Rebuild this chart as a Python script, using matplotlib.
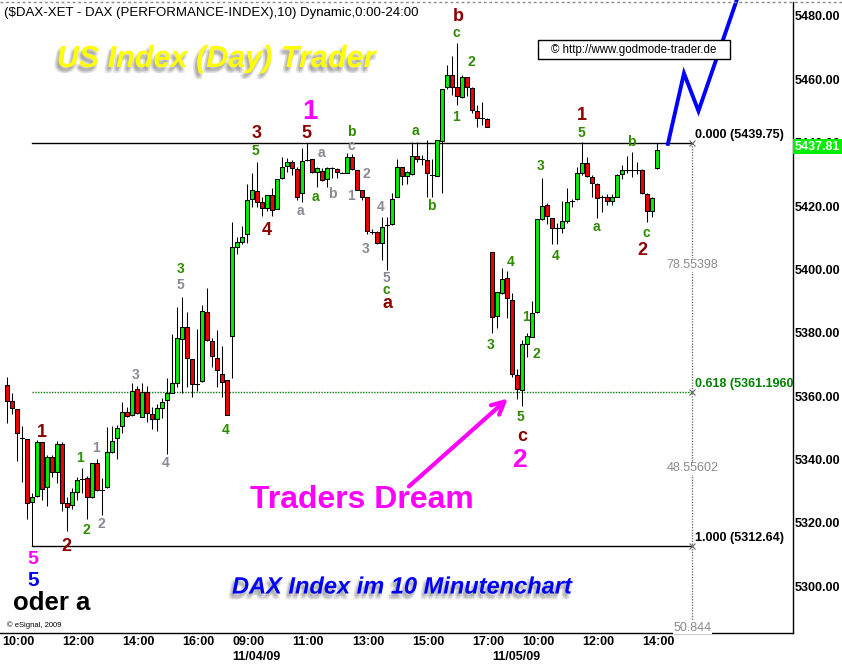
import matplotlib
matplotlib.use('Agg')
import matplotlib.pyplot as plt
import matplotlib.patheffects as pe
from matplotlib.patches import Rectangle
from matplotlib.lines import Line2D

plt.rcParams['font.family'] = ['Liberation Sans', 'DejaVu Sans']

# ---------------- data (10-minute candles, bar index 1..131) ----------------
opens = [5363.5, 5358.4, 5355.8, 5346.8, 5346.3, 5326.6, 5328.5, 5345.4, 5331.2, 5340.7,
         5335.9, 5344.9, 5326.1, 5325.6, 5329.6, 5333.8, 5334.0, 5328.0, 5338.8, 5330.3,
         5331.2, 5342.4, 5346.7, 5350.5, 5355.0, 5354.0, 5362.1, 5353.5, 5361.4, 5354.2,
         5352.9, 5356.3, 5358.7, 5361.0, 5364.2, 5377.9, 5381.9, 5371.6, 5363.7, 5364.8,
         5386.6, 5377.4, 5371.9, 5367.0, 5365.1,
         5379.1, 5407.2, 5408.5, 5411.2, 5422.1, 5424.7, 5421.2, 5419.3, 5423.5, 5419.0,
         5428.8, 5432.7, 5433.8, 5431.7, 5424.2, 5434.5, 5434.7, 5430.6, 5431.1, 5428.4,
         5431.9, 5431.7, 5430.5, 5430.5, 5435.6, 5431.4, 5425.1, 5422.9, 5411.9, 5411.9,
         5408.4, 5414.0, 5414.2, 5422.9, 5432.2, 5429.6, 5430.0, 5435.9, 5434.8, 5434.5,
         5429.8, 5429.5, 5440.6, 5457.5, 5461.4, 5457.5, 5454.5, 5460.6, 5457.2, 5450.0,
         5447.7, 5447.4,
         5405.4, 5385.4, 5392.6, 5397.2, 5390.3, 5366.6, 5361.9, 5376.3, 5378.7, 5386.4,
         5415.9, 5420.3, 5416.1, 5413.2, 5413.2, 5415.4, 5421.7, 5422.1, 5430.5, 5433.5,
         5429.0, 5426.9, 5422.8, 5422.8, 5421.7, 5422.9, 5430.1, 5431.4, 5431.4, 5431.4,
         5431.4, 5423.7, 5418.4, 5431.9]
highs = [5366.0, 5361.0, 5356.0, 5350.5, 5346.5, 5329.4, 5346.1, 5345.5, 5341.4, 5341.4,
         5345.9, 5345.6, 5328.0, 5330.9, 5334.5, 5337.2, 5334.8, 5339.0, 5340.0, 5334.0,
         5350.1, 5350.5, 5350.8, 5358.2, 5356.5, 5364.0, 5363.2, 5364.0, 5363.2, 5356.6,
         5357.4, 5359.3, 5365.6, 5379.6, 5388.2, 5391.2, 5386.4, 5371.7, 5381.2, 5388.7,
         5394.0, 5378.2, 5380.9, 5375.8, 5365.2,
         5415.1, 5410.3, 5413.7, 5427.0, 5430.5, 5434.0, 5423.0, 5423.5, 5425.6, 5428.5,
         5435.6, 5435.1, 5434.5, 5432.3, 5438.2, 5439.75, 5434.8, 5432.2, 5431.9, 5432.4,
         5432.4, 5431.9, 5430.6, 5436.8, 5436.4, 5431.5, 5425.2, 5423.0, 5412.6, 5412.0,
         5416.4, 5416.6, 5424.2, 5434.8, 5432.4, 5431.2, 5440.3, 5440.3, 5436.1, 5440.8,
         5434.8, 5440.8, 5456.9, 5464.5, 5467.2, 5471.4, 5461.3, 5460.7, 5457.5, 5451.9,
         5452.9, 5447.7,
         5405.5, 5392.9, 5400.5, 5399.5, 5392.6, 5368.4, 5377.7, 5379.8, 5390.0, 5416.0,
         5428.7, 5420.9, 5416.2, 5414.5, 5421.6, 5425.8, 5422.2, 5432.4, 5440.3, 5435.4,
         5429.8, 5427.2, 5423.5, 5423.8, 5423.8, 5430.0, 5432.9, 5435.8, 5437.2, 5434.0,
         5431.6, 5424.2, 5422.8, 5439.8]
lows = [5351.5, 5354.2, 5339.6, 5333.0, 5321.1, 5312.64, 5328.0, 5327.2, 5325.3, 5334.3,
        5332.4, 5323.8, 5317.5, 5324.2, 5327.2, 5329.3, 5321.1, 5327.8, 5330.1, 5322.4,
        5331.0, 5341.9, 5340.0, 5348.2, 5353.5, 5353.8, 5354.2, 5353.5, 5351.9, 5349.6,
        5349.0, 5353.2, 5341.7, 5360.9, 5362.8, 5361.0, 5362.8, 5359.8, 5361.6, 5364.5,
        5377.5, 5369.3, 5362.8, 5359.6, 5354.0,
        5365.6, 5404.8, 5408.0, 5408.2, 5419.6, 5419.8, 5416.9, 5418.4, 5416.9, 5419.0,
        5428.5, 5430.8, 5429.8, 5422.0, 5421.4, 5434.3, 5430.5, 5426.1, 5428.0, 5426.1,
        5428.8, 5428.8, 5430.4, 5430.3, 5431.4, 5425.1, 5422.0, 5411.1, 5411.2, 5408.0,
        5403.0, 5399.8, 5414.0, 5422.9, 5426.6, 5426.9, 5429.8, 5433.8, 5433.0, 5422.9,
        5422.9, 5429.5, 5424.2, 5456.9, 5455.1, 5451.9, 5454.0, 5454.7, 5449.3, 5445.0,
        5445.6, 5444.8,
        5380.0, 5381.6, 5392.1, 5384.7, 5365.9, 5359.0, 5356.9, 5372.4, 5378.5, 5386.3,
        5415.6, 5414.2, 5407.9, 5407.9, 5411.4, 5414.7, 5419.6, 5421.9, 5429.8, 5429.3,
        5422.9, 5416.1, 5418.0, 5420.3, 5420.3, 5422.8, 5428.6, 5430.3, 5429.3, 5430.1,
        5423.8, 5415.0, 5416.6, 5431.7]
closes = [5358.5, 5356.1, 5348.2, 5346.8, 5326.4, 5328.2, 5345.4, 5330.6, 5340.7, 5335.9,
          5344.9, 5326.1, 5325.1, 5329.6, 5333.5, 5333.8, 5328.0, 5338.8, 5330.3, 5330.3,
          5342.2, 5345.9, 5350.0, 5355.0, 5353.7, 5361.7, 5354.6, 5361.4, 5354.6, 5352.9,
          5356.3, 5358.0, 5360.9, 5364.0, 5378.2, 5381.7, 5371.9, 5363.7, 5363.7, 5387.0,
          5377.7, 5372.6, 5368.2, 5364.3, 5354.0,
          5407.0, 5408.5, 5410.3, 5421.9, 5425.1, 5421.2, 5419.3, 5423.5, 5418.7, 5428.5,
          5432.4, 5433.8, 5431.9, 5422.9, 5434.2, 5434.5, 5430.6, 5431.9, 5428.2, 5431.9,
          5431.9, 5430.8, 5430.5, 5435.4, 5431.6, 5425.1, 5422.8, 5412.2, 5411.9, 5408.4,
          5413.5, 5414.0, 5422.1, 5432.2, 5429.5, 5430.6, 5435.9, 5434.8, 5434.8, 5430.5,
          5429.8, 5440.8, 5456.9, 5461.4, 5457.5, 5454.7, 5460.6, 5457.5, 5450.3, 5447.7,
          5447.7, 5445.0,
          5385.1, 5392.8, 5396.9, 5390.9, 5367.0, 5362.1, 5376.3, 5379.0, 5386.1, 5415.9,
          5420.0, 5416.8, 5413.0, 5413.2, 5415.3, 5421.2, 5421.7, 5430.3, 5433.5, 5429.6,
          5427.2, 5422.4, 5422.8, 5421.7, 5422.8, 5429.8, 5431.4, 5431.4, 5431.4, 5431.4,
          5424.0, 5418.4, 5422.4, 5437.81]
bar_index = list(range(1, len(opens) + 1))

# time axis labels (bar index of the tick, label)
time_tick_idx = [0, 12, 24, 36, 46, 58, 70, 82, 94, 104, 116, 128]
time_tick_lbl = ['10:00', '12:00', '14:00', '16:00', '09:00', '11:00', '13:00', '15:00',
                 '17:00', '10:00', '12:00', '14:00']
date_tick_idx = [46, 98]
date_tick_lbl = ['11/04/09', '11/05/09']
price_ticks = [5300, 5320, 5340, 5360, 5380, 5400, 5420, 5440, 5460, 5480]

# Fibonacci retracement
fib_levels = [5439.75, 5361.196, 5312.64]
fib_labels = ['0.000 (5439.75)', '0.618 (5361.1960', '1.000 (5312.64)']
fib_start, fib_end = 6, 138
fib_side_vals = [5401.4, 5337.2, 5286.9]
fib_side_lbl = ['78.55398', '48.55602', '50.844']

# projected path (blue)
proj_x = [133.0, 136.3, 139.2, 147.5]
proj_y = [5439.0, 5461.9, 5450.0, 5488.0]

# Elliott wave labels: (bar index, price, text)
maroon_lbls = [(7.9, 5348.4, '1'), (12.9, 5312.6, '2'), (50.9, 5443.0, '3'), (52.9, 5412.4, '4'),
               (60.9, 5443.0, '5'), (77.0, 5389.3, 'a'), (91.1, 5479.8, 'b'), (104.0, 5347.2, 'c'),
               (115.9, 5448.7, '1'), (128.0, 5406.1, '2')]
green_lbls = [(15.5, 5340.3, '1'), (16.7, 5317.7, '2'), (35.6, 5400.0, '3'), (44.7, 5349.3, '4'),
              (50.7, 5437.5, '5'), (62.7, 5422.9, 'a'), (69.8, 5443.5, 'b'), (82.7, 5443.8, 'a'),
              (85.8, 5420.1, 'b'), (76.8, 5393.5, 'c'), (90.7, 5474.5, 'c'), (93.7, 5465.6, '2'),
              (90.7, 5448.0, '1'), (97.7, 5376.1, '3'), (101.7, 5402.4, '4'), (104.7, 5384.9, '1'),
              (106.7, 5373.3, '2'), (103.7, 5353.3, '5'), (107.7, 5432.7, '3'), (110.7, 5404.2, '4'),
              (115.7, 5443.0, '5'), (118.7, 5413.5, 'a'), (125.7, 5440.3, 'b'), (128.7, 5411.6, 'c')]
grey_lbls = [(18.7, 5343.5, '1'), (19.7, 5319.5, '2'), (26.7, 5366.6, '3'), (32.7, 5338.8, '4'),
             (35.7, 5395.1, '5'), (59.7, 5418.5, 'a'), (63.8, 5436.6, 'a'), (65.9, 5423.8, 'b'),
             (69.7, 5439.0, 'c'), (72.7, 5430.1, '2'), (69.7, 5423.2, '1'), (72.7, 5406.3, '3'),
             (75.7, 5419.6, '4'), (76.8, 5397.2, '5')]
magenta_lbls = [(61.5, 5449.8, '1', 20), (103.4, 5339.8, '2', 19), (6.1, 5308.4, '5', 14)]

# ---------------- figure ----------------
W, H = 842, 664
fig = plt.figure(figsize=(W / 100, H / 100), dpi=100)
fig.patch.set_facecolor('white')
ax = fig.add_axes([0, 31.3 / H, 793 / W, (662 - 31.3) / H])
ax.set_xlim(-0.46, 158.1)
ax.set_ylim(5285.3, 5484.4)
for s in ['left', 'top']:
    ax.spines[s].set_visible(False)
ax.spines['right'].set_linewidth(1.0)
ax.spines['bottom'].set_linewidth(1.0)

GREEN = '#00ee00'
RED = '#ee0000'
LW = 0.75
bw = 0.8
for i, o, h, l, c in zip(bar_index, opens, highs, lows, closes):
    ax.plot([i, i], [l, h], color='black', lw=LW, zorder=3, solid_capstyle='butt')
    if abs(c - o) < 0.3:
        ax.plot([i - bw / 2, i + bw / 2], [c, c], color='black', lw=LW, zorder=4)
    else:
        col = GREEN if c > o else RED
        ax.add_patch(Rectangle((i - bw / 2, min(o, c)), bw, abs(c - o), facecolor=col,
                               edgecolor='black', lw=LW, zorder=4))

# y axis on right
ax.yaxis.tick_right()
ax.set_yticks(price_ticks)
ax.set_yticklabels(['%.2f' % v for v in price_ticks], fontsize=9, fontweight='bold')
ax.tick_params(axis='y', length=0, pad=1.5)
ax.set_xticks([])

# x labels
for idx, lbl in zip(time_tick_idx, time_tick_lbl):
    ax.annotate(lbl, xy=(idx, 0), xycoords=('data', 'axes fraction'), xytext=(0, -6.5),
                textcoords='offset points', ha='left', va='center', fontsize=9, fontweight='bold')
for idx, lbl in zip(date_tick_idx, date_tick_lbl):
    ax.annotate(lbl, xy=(idx, 0), xycoords=('data', 'axes fraction'), xytext=(0, -17.5),
                textcoords='offset points', ha='left', va='center', fontsize=9, fontweight='bold')

# Fibonacci
fib_cols = ['black', '#008000', 'black']
fib_ls = ['-', (0, (1, 1)), '-']
for lev, lbl, col, ls in zip(fib_levels, fib_labels, fib_cols, fib_ls):
    ax.plot([fib_start, fib_end], [lev, lev], color=col, lw=1.0, ls=ls, zorder=2)
    ax.annotate(lbl, xy=(fib_end, lev), xytext=(1.5, 1.5), textcoords='offset points',
                ha='left', va='bottom', fontsize=9, color=col if col != 'black' else 'black',
                fontweight='bold', zorder=6)
    ax.plot([fib_end], [lev], marker='x', ms=4, color='#666666', mew=0.8, zorder=6)
ax.plot([fib_end, fib_end], [fib_levels[0], 5284], color='#777777', lw=1.0, ls=(0, (1, 1)),
        zorder=2, clip_on=True)
for v, lbl in zip(fib_side_vals, fib_side_lbl):
    ax.text(fib_end, v, lbl, ha='center', va='center', fontsize=9, color='#8a8a8a',
            bbox=dict(facecolor='white', edgecolor='none', pad=0.5), zorder=5)

# projection
ax.plot(proj_x, proj_y, color='#0000ff', lw=2.8, zorder=7, clip_on=False,
        solid_capstyle='butt', solid_joinstyle='miter')

# wave labels
for x, y, t in maroon_lbls:
    ax.text(x, y, t, color='#8b0000', fontsize=13, fontweight='bold', ha='center', va='center', zorder=8)
for x, y, t in green_lbls:
    ax.text(x, y, t, color='#2e8b00', fontsize=10, fontweight='bold', ha='center', va='center', zorder=8)
for x, y, t in grey_lbls:
    ax.text(x, y, t, color='#8a8a96', fontsize=10, fontweight='bold', ha='center', va='center', zorder=8)
for x, y, t, fs in magenta_lbls:
    ax.text(x, y, t, color='#ff00ff', fontsize=fs, fontweight='bold', ha='center', va='center', zorder=8)
ax.text(6.2, 5301.9, '5', color='#0000ff', fontsize=15, fontweight='bold', ha='center', va='center', zorder=8)
ax.text(9.9, 5294.6, 'oder a', color='black', fontsize=18.5, fontweight='bold', ha='center', va='center', zorder=8)

ax.text(71.9, 5327.2, 'Traders Dream', color='#ff00ff', fontsize=23, fontweight='bold',
        ha='center', va='center', zorder=8)
ax.annotate('', xy=(101.5, 5359.8), xytext=(80.9, 5330.9),
            arrowprops=dict(arrowstyle='->,head_length=0.9,head_width=0.45', color='#ff00ff', lw=3),
            zorder=8)


def shadow_fx():
    fx = []
    for dx in (-1.2, 0, 1.2):
        for dy in (-1.2, 0, 1.2):
            fx.append(pe.SimplePatchShadow(offset=(-1.6 + dx, -3.0 + dy), shadow_rgbFace='#606060', alpha=0.09))
    fx.append(pe.Normal())
    return fx


fig.text(216 / W, 1 - 59 / H, 'US Index (Day) Trader', color='#ffff00', fontsize=22,
         fontweight='bold', style='italic', ha='center', va='center', path_effects=shadow_fx())
fig.text(402 / W, 1 - 587 / H, 'DAX Index im 10 Minutenchart', color='#0000ff', fontsize=17,
         fontweight='bold', style='italic', ha='center', va='center', path_effects=shadow_fx())

# header
fig.text(4 / W, 1 - 13 / H, '($DAX-XET - DAX (PERFORMANCE-INDEX),10) Dynamic,0:00-24:00',
         fontsize=9.5, ha='left', va='center', color='black')
fig.add_artist(Line2D([0, 1], [1 - 2 / H, 1 - 2 / H], color='#888888', lw=1, ls=(0, (2, 2))))

# copyright box
fig.patches.append(Rectangle((538 / W, 1 - 59 / H), 192 / W, 19 / H, transform=fig.transFigure,
                             facecolor='white', edgecolor='black', lw=1, zorder=20))
fig.text(634 / W, 1 - 49.5 / H, '\u00a9 http://www.godmode-trader.de', fontsize=8.3,
         ha='center', va='center', zorder=21)
fig.text(7 / W, 1 - 625 / H, '\u00a9 eSignal, 2009', fontsize=5.5, ha='left', va='center')

# last price box
fig.patches.append(Rectangle((793 / W, 1 - 154 / H), 49 / W, 15 / H, transform=fig.transFigure,
                             facecolor='#00ee00', edgecolor='none', zorder=20))
fig.text(817 / W, 1 - 146.5 / H, '5437.81', fontsize=9, fontweight='bold', color='white',
         ha='center', va='center', zorder=21)

fig.savefig('out.png', dpi=100, facecolor='white')
